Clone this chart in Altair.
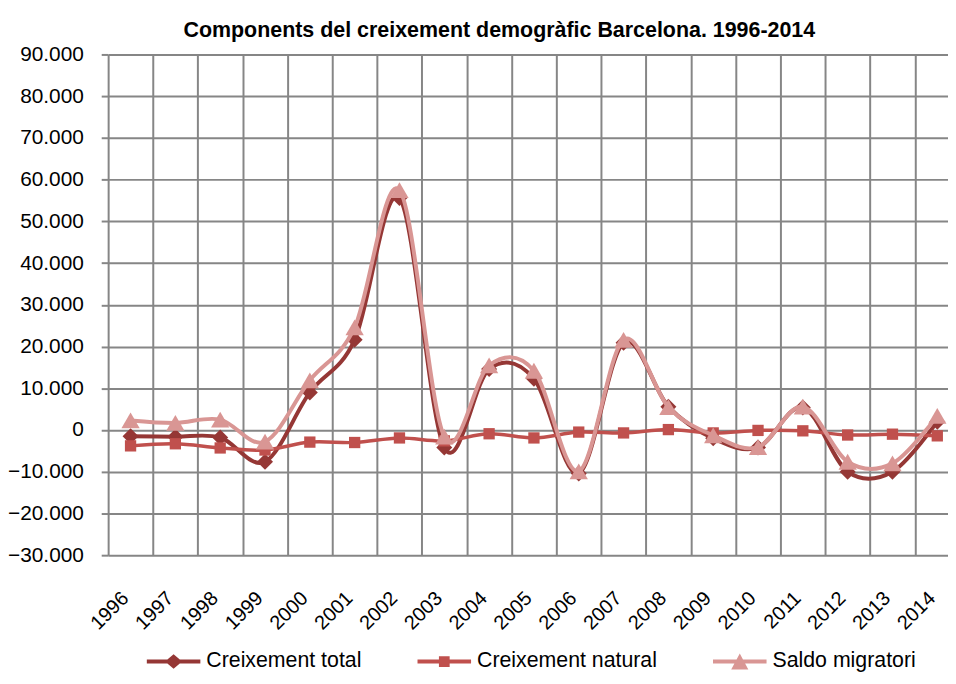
import altair as alt
import pandas as pd

# ---- data ----
years = list(range(1996, 2015))
creixement_total = [-1500, -1600, -1800, -7600, 9000, 21600, 55600, -4200, 14600, 12300,
                    -10400, 20900, 5600, -2000, -4200, 5400, -10000, -10000, 2000]
creixement_natural = [-3800, -3300, -4300, -4800, -2900, -3000, -1900, -2600, -900, -1900,
                      -500, -700, 100, -700, -100, -200, -1200, -1000, -1400]
saldo_migratori = [2300, 1700, 2500, -2800, 11900, 24600, 57500, -1600, 15500, 14200,
                   -9900, 21600, 5500, -1300, -4100, 5600, -7600, -8000, 3400]

series_names = ["Creixement total", "Creixement natural", "Saldo migratori"]
series_values = [creixement_total, creixement_natural, saldo_migratori]
y_ticks = list(range(-30000, 90001, 10000))
title_text = "Components del creixement demogràfic Barcelona. 1996-2014"

# ---- styling ----
colors = ["#953735", "#c0504d", "#d99694"]
shapes = ["diamond", "square", "triangle-up"]
sizes = [260, 130, 340]
widths = [4, 3.5, 4]
legend_paths = [
    "M-1,-0.075L1,-0.075L1,0.075L-1,0.075Z M0,-0.27L0.32,0L0,0.27L-0.32,0Z",
    "M-1,-0.075L1,-0.075L1,0.075L-1,0.075Z M-0.2,-0.2L0.2,-0.2L0.2,0.2L-0.2,0.2Z",
    "M-1,-0.075L1,-0.075L1,0.075L-1,0.075Z M0,-0.3L0.32,0.3L-0.32,0.3Z",
]
FONT = "Liberation Sans, Arial, sans-serif"
GRID = "#868686"

rows = []
for name, vals in zip(series_names, series_values):
    for yr, v in zip(years, vals):
        rows.append({"any": yr, "serie": name, "valor": v})
df = pd.DataFrame(rows)

PLOT_W = 847
STEP = 45.2
x_max = 1995.5 + PLOT_W / STEP

x_enc = alt.X(
    "any:Q",
    scale=alt.Scale(domain=[1995.5, x_max], nice=False, zero=False),
    axis=alt.Axis(
        values=[yr - 0.5 for yr in years],
        grid=True, gridColor=GRID, gridWidth=2, gridOpacity=1,
        ticks=False, tickSize=0, domain=False,
        labelExpr="format(datum.value + 0.5, 'd')",
        labelAngle=-45, labelAlign="right", labelBaseline="middle",
        labelOffset=17, labelPadding=40,
        labelFont=FONT, labelFontSize=20, labelColor="black",
        labelFlush=False, labelOverlap=False, labelBound=False,
        title=None,
    ),
)
y_enc = alt.Y(
    "valor:Q",
    scale=alt.Scale(domain=[-30000, 90000], nice=False, zero=False),
    axis=alt.Axis(
        values=y_ticks,
        grid=True, gridColor=GRID, gridWidth=2, gridOpacity=1,
        ticks=True, tickSize=7, tickColor=GRID, tickWidth=2,
        domain=False,
        labelExpr="replace(format(datum.value, ','), ',', '.')",
        labelPadding=18, labelFont=FONT, labelFontSize=21, labelColor="black",
        labelFlush=False, labelOverlap=False,
        title=None,
    ),
)

layers = []
for i, name in enumerate(series_names):
    base = alt.Chart(df).transform_filter(alt.datum.serie == name).encode(x=x_enc, y=y_enc)
    layers.append(base.mark_line(interpolate="cardinal", color=colors[i],
                                 strokeWidth=widths[i], opacity=1))
    layers.append(base.mark_point(filled=True, opacity=1, shape=shapes[i],
                                  size=sizes[i], color=colors[i], strokeWidth=0))

leg = alt.Legend(
    title=None, orient="none", legendX=39, legendY=585, direction="horizontal",
    columnPadding=56, labelOffset=6, labelFont=FONT, labelFontSize=21.5,
    labelColor="black", labelLimit=400, symbolSize=2916, symbolStrokeWidth=0,
    padding=0,
)
legend_layer = alt.Chart(df).transform_filter("false").mark_point(
    filled=True, opacity=1
).encode(
    x=x_enc, y=y_enc,
    color=alt.Color("serie:N", scale=alt.Scale(domain=series_names, range=colors), legend=leg),
    shape=alt.Shape("serie:N", scale=alt.Scale(domain=series_names, range=legend_paths), legend=leg),
)
layers.append(legend_layer)

chart = alt.layer(*layers).properties(
    width=PLOT_W, height=505,
    autosize=alt.AutoSizeParams(type="none"),
    padding={"left": 101, "top": 44, "right": 0, "bottom": 119},
    title=alt.Title(title_text, font=FONT, fontSize=21.6, fontWeight="bold",
                    anchor="middle", dx=-29, offset=-15, baseline="alphabetic", color="black"),
    background="white",
).configure_view(stroke=None)

chart.save("out.html", embed_options={"renderer": "svg", "actions": False})
